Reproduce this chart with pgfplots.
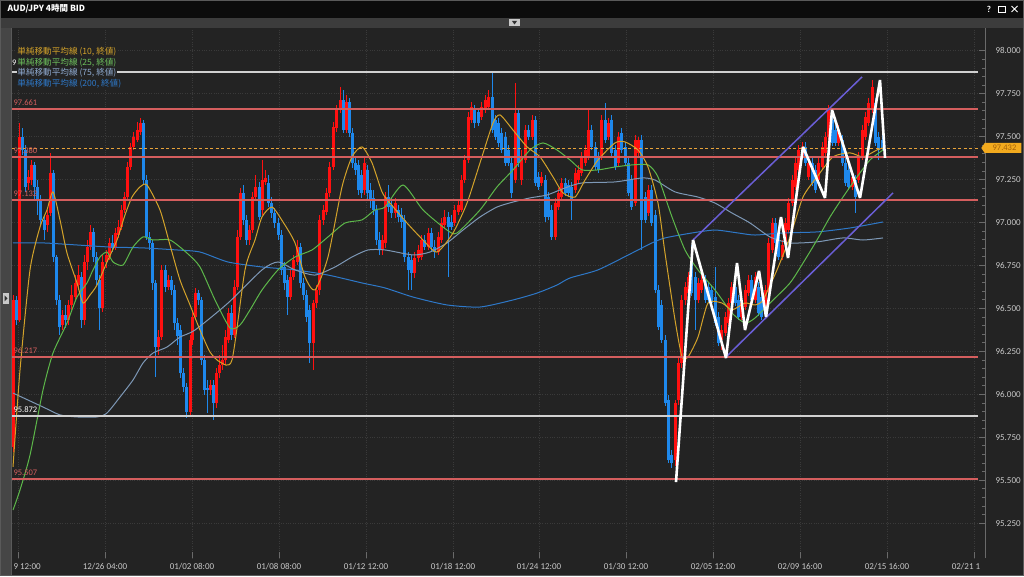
\documentclass[border=0pt]{standalone}
\usepackage{pgfplots}
\pgfplotsset{compat=1.18}
\usepackage{pgfplotstable}
\usepackage{fontspec}
\setmainfont{Carlito}
\newfontfamily\cjk{Noto Sans CJK JP}
\usetikzlibrary{shapes.symbols}
\definecolor{bg}{HTML}{232323}
\definecolor{candred}{HTML}{FF1010}
\definecolor{candblue}{HTML}{1E88EC}
\definecolor{maten}{HTML}{D4A32A}
\definecolor{matwf}{HTML}{5DB84A}
\definecolor{masf}{HTML}{7D98B6}
\definecolor{matwo}{HTML}{2E78C8}
\definecolor{hred}{HTML}{D45E5E}
\definecolor{hwhite}{HTML}{D0D0D0}
\definecolor{dashor}{HTML}{E8A33A}
\definecolor{chan}{HTML}{6A5ED6}
\definecolor{gridc}{HTML}{3A3A3A}
\definecolor{tickc}{HTML}{6A6A6A}
\definecolor{labc}{HTML}{C8C8C8}
\definecolor{tagor}{HTML}{F2AA1E}
\definecolor{tagtx}{HTML}{A4610A}
\definecolor{stripc}{HTML}{3C3C3C}
\definecolor{leftc}{HTML}{464646}
\definecolor{edgec}{HTML}{5A5A5A}
\definecolor{lightc}{HTML}{C8C8C8}
\definecolor{darkc}{HTML}{303030}
\definecolor{titlec}{HTML}{0C0C0C}
\definecolor{legsf}{HTML}{8FAAD0}

\pgfplotstableread{
x o h l c
13.0 95.693 96.578 95.664 96.549
16.1 96.549 96.572 96.403 96.433
19.2 96.433 97.579 96.421 97.498
22.3 97.498 97.550 97.393 97.422
25.4 97.422 97.451 97.178 97.207
28.5 97.230 97.306 97.189 97.265
31.6 97.247 97.364 97.218 97.335
34.7 97.335 97.352 97.131 97.207
37.8 97.207 97.247 97.044 97.131
40.9 97.131 97.160 96.986 97.015
44.0 97.015 97.044 96.898 96.956
47.1 96.986 97.073 96.945 97.044
50.2 97.055 97.405 97.038 97.288
53.3 97.288 97.306 96.770 96.799
56.4 96.799 96.811 96.520 96.549
59.5 96.549 96.578 96.345 96.392
62.6 96.403 96.491 96.374 96.462
65.7 96.462 96.520 96.386 96.433
68.8 96.433 96.549 96.403 96.520
71.9 96.520 96.636 96.491 96.578
75.0 96.566 96.694 96.549 96.648
78.1 96.636 96.752 96.607 96.694
81.2 96.683 96.712 96.386 96.433
84.3 96.433 96.811 96.403 96.770
87.4 96.770 96.898 96.724 96.857
90.5 96.857 96.986 96.840 96.945
93.6 96.945 96.968 96.770 96.799
96.7 96.799 96.828 96.636 96.665
99.8 96.665 96.694 96.374 96.502
102.9 96.502 96.811 96.479 96.770
106.0 96.770 96.840 96.735 96.811
109.1 96.799 96.910 96.782 96.881
112.2 96.881 96.927 96.828 96.852
115.3 96.852 96.968 96.840 96.939
118.4 96.927 97.015 96.910 96.974
121.5 96.974 97.102 96.956 97.073
124.6 97.073 97.178 97.055 97.148
127.7 97.148 97.352 97.131 97.323
130.8 97.323 97.463 97.306 97.440
133.9 97.440 97.527 97.422 97.498
137.0 97.480 97.585 97.469 97.538
140.1 97.527 97.608 97.509 97.579
143.1 97.579 97.597 97.218 97.247
146.3 97.247 97.276 96.898 96.916
149.4 96.916 96.945 96.840 96.881
152.5 96.881 96.898 96.607 96.648
155.6 96.648 96.665 96.100 96.275
158.8 96.275 96.374 96.229 96.333
161.9 96.333 96.752 96.316 96.724
165.0 96.724 96.752 96.595 96.624
168.1 96.624 96.694 96.607 96.665
171.3 96.665 96.689 96.578 96.607
174.4 96.607 96.636 96.374 96.415
177.5 96.415 96.444 96.287 96.339
180.6 96.374 96.403 96.095 96.124
183.8 96.124 96.153 96.013 96.042
186.9 96.042 96.066 95.862 95.897
190.0 95.897 96.345 95.868 96.316
192.9 96.316 96.491 96.287 96.450
195.9 96.450 96.619 96.433 96.589
198.8 96.589 96.607 96.520 96.549
201.8 96.549 96.566 96.170 96.200
204.7 96.200 96.229 95.996 96.025
207.6 96.037 96.083 95.891 96.025
210.6 96.025 96.083 95.996 96.054
213.5 96.054 96.083 95.850 95.949
216.5 95.949 96.153 95.920 96.124
219.4 96.124 96.229 96.095 96.170
222.4 96.170 96.287 96.141 96.200
225.3 96.200 96.374 96.170 96.333
228.2 96.316 96.502 96.298 96.473
231.2 96.473 96.520 96.316 96.345
234.1 96.345 96.665 96.328 96.624
237.1 96.624 96.956 96.607 96.916
240.0 96.916 97.201 96.898 97.172
243.2 97.172 97.218 96.986 97.015
246.3 97.015 97.044 96.869 96.898
249.5 96.898 96.986 96.869 96.956
252.7 96.956 97.178 96.939 97.148
255.9 97.148 97.276 97.131 97.207
259.0 97.207 97.236 97.015 97.032
262.2 97.073 97.364 97.044 97.247
265.4 97.236 97.306 97.218 97.259
268.6 97.230 97.276 97.090 97.113
271.7 97.113 97.148 97.026 97.055
274.9 97.055 97.084 96.968 96.997
278.1 96.997 97.026 96.898 96.927
281.2 96.927 96.956 96.694 96.724
284.4 96.741 96.770 96.607 96.648
287.6 96.665 96.694 96.462 96.566
290.8 96.566 96.724 96.549 96.683
293.9 96.683 96.811 96.665 96.782
297.1 96.770 96.898 96.752 96.857
300.3 96.857 96.881 96.619 96.648
303.5 96.648 96.677 96.549 96.578
306.6 96.578 96.607 96.421 96.450
309.8 96.491 96.520 96.182 96.298
313.0 96.298 96.549 96.141 96.531
316.4 96.531 96.636 96.502 96.607
319.8 96.607 97.044 96.578 97.015
323.1 97.015 97.102 96.986 97.073
326.5 97.061 97.201 97.044 97.172
329.9 97.172 97.352 97.148 97.323
333.3 97.323 97.585 97.306 97.556
336.6 97.550 97.684 97.527 97.655
340.0 97.655 97.789 97.637 97.713
343.0 97.713 97.771 97.521 97.538
346.0 97.538 97.742 97.521 97.701
349.0 97.701 97.725 97.498 97.521
352.0 97.521 97.550 97.317 97.347
355.0 97.347 97.376 97.276 97.306
358.0 97.335 97.364 97.160 97.189
361.0 97.276 97.306 97.143 97.172
364.0 97.189 97.376 97.160 97.347
367.0 97.306 97.335 97.131 97.172
370.0 97.189 97.230 97.084 97.131
373.0 97.143 97.189 97.044 97.073
376.0 97.073 97.102 96.869 96.898
379.0 96.898 96.945 96.811 96.840
382.0 96.840 96.927 96.811 96.898
385.0 96.881 97.178 96.852 97.148
388.3 97.148 97.218 97.061 97.090
391.6 97.102 97.143 97.026 97.055
395.0 97.055 97.143 97.026 97.113
398.3 97.073 97.102 97.003 97.032
401.6 97.044 97.084 96.968 97.003
404.9 97.015 97.044 96.770 96.799
408.2 96.799 96.828 96.607 96.724
411.6 96.782 96.811 96.607 96.706
414.9 96.706 96.828 96.677 96.793
418.2 96.793 96.869 96.770 96.840
421.5 96.799 96.927 96.782 96.898
424.8 96.898 96.927 96.840 96.857
428.2 96.857 96.968 96.840 96.939
431.5 96.939 96.968 96.828 96.857
434.8 96.857 96.898 96.793 96.828
438.1 96.828 96.945 96.811 96.916
441.4 96.898 97.026 96.881 96.997
444.8 96.986 97.073 96.968 97.032
448.1 97.032 97.061 96.683 96.974
451.4 97.003 97.044 96.956 96.974
454.7 96.997 97.102 96.980 97.073
458.0 97.061 97.131 97.044 97.102
461.4 97.073 97.276 97.061 97.247
464.7 97.247 97.393 97.230 97.364
468.0 97.364 97.643 97.347 97.614
471.4 97.597 97.701 97.579 97.672
474.9 97.655 97.684 97.550 97.579
478.3 97.643 97.666 97.562 97.579
481.7 97.614 97.701 97.597 97.672
485.1 97.655 97.742 97.637 97.713
488.6 97.672 97.771 97.655 97.730
492.0 97.730 97.870 97.521 97.538
495.3 97.597 97.626 97.480 97.498
498.6 97.579 97.608 97.440 97.463
501.9 97.521 97.550 97.405 97.422
505.1 97.498 97.527 97.329 97.347
508.4 97.422 97.451 97.329 97.347
511.7 97.347 97.376 97.143 97.172
515.0 97.247 97.812 97.230 97.637
518.4 97.637 97.655 97.323 97.347
521.8 97.247 97.422 97.218 97.382
525.2 97.364 97.567 97.347 97.538
528.6 97.538 97.567 97.480 97.498
532.0 97.498 97.626 97.480 97.597
535.0 97.597 97.620 97.212 97.230
538.3 97.265 97.294 97.189 97.207
541.7 97.230 97.294 97.212 97.265
545.0 97.247 97.276 97.003 97.032
548.3 97.148 97.178 97.015 97.032
551.7 97.073 97.102 96.898 96.916
555.0 96.916 97.143 96.898 97.113
558.4 97.090 97.201 97.073 97.172
561.7 97.148 97.259 97.131 97.230
565.0 97.230 97.259 97.154 97.172
568.4 97.218 97.247 97.148 97.172
571.7 97.207 97.236 97.015 97.131
575.0 97.189 97.317 97.172 97.288
578.4 97.247 97.335 97.230 97.306
581.7 97.288 97.411 97.271 97.382
585.1 97.347 97.451 97.329 97.422
588.4 97.382 97.655 97.364 97.538
591.7 97.538 97.567 97.422 97.440
595.1 97.440 97.469 97.306 97.323
598.4 97.382 97.411 97.288 97.306
601.7 97.382 97.626 97.364 97.597
605.1 97.597 97.695 97.463 97.480
608.4 97.498 97.608 97.480 97.579
611.8 97.597 97.626 97.387 97.405
615.1 97.422 97.451 97.306 97.323
618.4 97.347 97.527 97.329 97.498
621.8 97.521 97.550 97.405 97.422
625.1 97.440 97.469 97.329 97.347
628.4 97.347 97.376 97.154 97.172
631.8 97.247 97.276 97.073 97.090
635.1 97.113 97.509 97.096 97.480
638.5 97.405 97.498 97.387 97.480
641.8 97.480 97.509 96.840 97.015
645.1 97.148 97.178 96.997 97.015
648.5 97.055 97.218 97.038 97.189
651.8 97.189 97.218 96.980 96.997
655.1 97.044 97.073 96.589 96.607
658.5 96.607 96.636 96.374 96.392
661.8 96.520 96.549 96.298 96.316
665.2 96.316 96.345 95.932 95.949
668.5 95.967 95.996 95.600 95.617
671.8 95.646 95.676 95.571 95.600
675.2 95.617 95.967 95.582 95.949
678.5 95.967 96.211 95.938 96.182
681.8 96.182 96.578 96.153 96.549
685.2 96.549 96.654 96.520 96.624
688.5 96.589 96.712 96.572 96.683
691.9 96.764 96.869 96.572 96.589
695.2 96.683 96.712 96.374 96.549
698.5 96.549 96.677 96.531 96.648
701.9 96.607 96.694 96.589 96.665
705.2 96.665 96.694 96.531 96.549
708.5 96.624 96.654 96.531 96.549
711.9 96.607 96.636 96.514 96.531
715.2 96.566 96.741 96.398 96.415
718.6 96.450 96.479 96.281 96.298
721.9 96.316 96.403 96.258 96.374
725.2 96.357 96.479 96.339 96.450
728.6 96.415 96.560 96.398 96.531
731.9 96.531 96.654 96.514 96.624
735.2 96.624 96.654 96.514 96.531
738.6 96.549 96.578 96.433 96.450
741.9 96.450 96.560 96.433 96.531
745.3 96.508 96.636 96.491 96.607
748.6 96.589 96.694 96.572 96.665
751.9 96.665 96.694 96.531 96.549
755.3 96.549 96.712 96.531 96.683
758.6 96.624 96.654 96.456 96.473
761.9 96.566 96.595 96.433 96.450
765.3 96.508 96.636 96.491 96.607
768.6 96.607 96.910 96.589 96.881
772.0 96.840 97.026 96.822 96.997
775.3 96.997 97.026 96.863 96.881
778.6 96.939 96.968 96.782 96.799
782.0 96.799 96.898 96.782 96.869
785.3 96.881 97.026 96.863 96.997
788.6 96.956 97.143 96.939 97.113
792.0 97.113 97.276 97.096 97.247
795.3 97.207 97.376 97.189 97.347
798.7 97.306 97.451 97.288 97.422
802.0 97.382 97.469 97.364 97.440
805.3 97.440 97.469 97.329 97.347
808.7 97.265 97.376 97.247 97.347
812.0 97.347 97.376 97.212 97.230
815.3 97.306 97.335 97.172 97.189
818.7 97.247 97.376 97.230 97.347
822.0 97.323 97.469 97.306 97.440
825.4 97.405 97.527 97.387 97.498
828.7 97.498 97.684 97.480 97.655
832.0 97.597 97.626 97.445 97.463
835.4 97.538 97.567 97.445 97.463
838.7 97.463 97.567 97.445 97.538
842.0 97.480 97.509 97.329 97.347
845.4 97.347 97.376 97.212 97.230
848.7 97.306 97.335 97.189 97.207
852.1 97.207 97.294 97.189 97.265
855.4 97.247 97.276 97.055 97.148
858.7 97.247 97.411 97.230 97.382
862.1 97.382 97.567 97.364 97.538
865.4 97.498 97.643 97.480 97.614
868.7 97.579 97.725 97.562 97.695
872.1 97.655 97.829 97.637 97.789
875.4 97.695 97.725 97.445 97.463
878.7 97.498 97.527 97.364 97.422
882.1 97.480 97.509 97.416 97.432
}\candles

\pgfplotsset{
  candle/.style 2 args={draw=none, mark=none, forget plot, restrict y to domain=90:100,
    error bars/.cd, y dir=both, y explicit, error mark=none,
    error bar style={draw=#1, line width=#2, line cap=butt}},
}

\begin{document}
\begin{tikzpicture}[x=1pt,y=1pt]
\useasboundingbox (0,0) rectangle (1024,576);
\fill[bg] (0,0) rectangle (1024,576);
\begin{axis}[
  at={(12pt,18pt)}, anchor=south west, scale only axis,
  width=973pt, height=530pt,
  xmin=12, xmax=985, ymin=95.047, ymax=98.132,
  axis line style={draw=none},
  ytick={95.25,95.5,95.75,96,96.25,96.5,96.75,97,97.25,97.5,97.75,98},
  minor y tick num=4,
  yticklabel pos=right, ytick pos=right, xtick pos=left,
  tick align=inside,
  major tick length=6pt, minor tick length=3pt,
  every tick/.style={color=tickc, line width=0.7pt},
  xtick={18,105,192,279,366,453,539,626,713,800,887,974},
  xticklabels={\makebox[0pt][l]{\hspace*{-4.5pt}9 12:00},12/26 04:00,01/02 08:00,01/08 08:00,01/12 12:00,01/18 12:00,01/24 12:00,01/30 12:00,02/05 12:00,02/09 16:00,02/15 16:00,\hspace*{-16pt}02/21 1},
  minor x tick num=4,
  grid=major,
  major grid style={dotted, color=gridc, line width=0.7pt},
  yticklabel style={font=\fontsize{9}{10}\selectfont, text=labc, anchor=west, xshift=7pt,
    /pgf/number format/.cd, fixed, fixed zerofill, precision=3, assume math mode=true},
  xticklabel style={font=\fontsize{9}{10}\selectfont, text=labc, yshift=-2pt},
  clip=true,
]
% wicks
\addplot[candle={candred}{0.9pt}] table[x=x, y expr={0.5*(\thisrow{h}+\thisrow{l})+1000*(\thisrow{c}<\thisrow{o})}, y error expr={0.5*(\thisrow{h}-\thisrow{l})}] {\candles};
\addplot[candle={candblue}{0.9pt}] table[x=x, y expr={0.5*(\thisrow{h}+\thisrow{l})+1000*(1-(\thisrow{c}<\thisrow{o}))}, y error expr={0.5*(\thisrow{h}-\thisrow{l})}] {\candles};
% bodies
\addplot[candle={candred}{3pt}] table[x=x, y expr={0.5*(\thisrow{o}+\thisrow{c})+1000*(\thisrow{c}<\thisrow{o})}, y error expr={max(0.5*abs(\thisrow{c}-\thisrow{o}),0.003)}] {\candles};
\addplot[candle={candblue}{3pt}] table[x=x, y expr={0.5*(\thisrow{o}+\thisrow{c})+1000*(1-(\thisrow{c}<\thisrow{o}))}, y error expr={max(0.5*abs(\thisrow{c}-\thisrow{o}),0.003)}] {\candles};

% MA 200
\addplot[matwo, line width=1pt, smooth, tension=0.4] coordinates {
(13,96.881)(43,96.881)(77,96.869)(110,96.857)(143,96.852)(177,96.840)(200,96.828)(228,96.770)(262,96.741)(295,96.724)(328,96.694)(362,96.648)(385,96.619)(413,96.566)(447,96.520)(480,96.508)(513,96.549)(537,96.589)(557,96.636)(570,96.677)(598,96.724)(632,96.822)(652,96.881)(665,96.910)(692,96.939)(715,96.956)(738,96.939)(755,96.927)(783,96.939)(817,96.945)(850,96.968)(883,97.003)};
% MA 75
\addplot[masf, line width=1pt, smooth, tension=0.4] coordinates {
(13,96.007)(43,95.926)(60,95.880)(77,95.868)(97,95.868)(107,95.891)(120,95.984)(133,96.083)(143,96.182)(153,96.240)(167,96.275)(180,96.333)(195,96.374)(228,96.531)(262,96.724)(278,96.770)(295,96.724)(315,96.694)(335,96.741)(352,96.799)(368,96.840)(385,96.840)(413,96.811)(430,96.828)(447,96.881)(463,96.956)(480,97.032)(497,97.090)(513,97.119)(530,97.143)(547,97.160)(565,97.201)(582,97.230)(615,97.236)(642,97.259)(655,97.247)(675,97.178)(698,97.148)(715,97.113)(732,97.055)(750,96.997)(770,96.916)(790,96.881)(817,96.887)(843,96.910)(863,96.898)(883,96.910)};
% MA 25
\addplot[matwf, line width=1pt, smooth, tension=0.4] coordinates {
(13,95.326)(20,95.443)(30,95.646)(43,96.025)(53,96.240)(67,96.415)(77,96.566)(87,96.648)(93,96.724)(100,96.799)(107,96.828)(113,96.770)(123,96.752)(133,96.857)(143,96.916)(153,96.898)(170,96.898)(187,96.822)(200,96.741)(215,96.549)(230,96.386)(240,96.403)(250,96.491)(262,96.607)(278,96.724)(295,96.799)(312,96.840)(328,96.916)(345,96.997)(362,97.015)(375,97.073)(385,97.090)(403,97.218)(423,97.073)(447,96.956)(457,96.939)(480,97.073)(497,97.207)(513,97.306)(530,97.422)(543,97.463)(557,97.422)(570,97.364)(582,97.306)(598,97.306)(615,97.323)(632,97.335)(648,97.335)(658,97.265)(672,97.032)(685,96.840)(698,96.724)(715,96.607)(732,96.473)(745,96.415)(755,96.444)(770,96.531)(790,96.648)(803,96.764)(817,96.898)(830,97.032)(843,97.148)(857,97.265)(870,97.364)(883,97.422)};
% MA 10
\addplot[maten, line width=1pt, smooth, tension=0.4] coordinates {
(13,95.577)(20,96.141)(30,96.724)(40,96.974)(47,97.073)(53,97.178)(60,97.015)(67,96.822)(77,96.648)(83,96.531)(90,96.578)(97,96.636)(107,96.770)(117,96.898)(125,97.044)(132,97.148)(140,97.207)(147,97.218)(160,97.073)(170,96.869)(180,96.665)(190,96.520)(200,96.374)(210,96.246)(220,96.188)(232,96.200)(245,96.724)(255,96.898)(262,97.032)(272,97.090)(283,97.003)(295,96.881)(305,96.683)(315,96.607)(328,96.799)(342,97.207)(352,97.382)(362,97.440)(372,97.347)(382,97.178)(390,97.113)(407,96.997)(423,96.898)(437,96.828)(453,96.939)(467,97.113)(480,97.347)(493,97.579)(500,97.626)(513,97.538)(527,97.440)(540,97.382)(553,97.265)(563,97.172)(575,97.148)(585,97.247)(598,97.364)(615,97.463)(625,97.469)(638,97.422)(648,97.323)(658,97.113)(665,96.822)(675,96.433)(682,96.217)(688,96.217)(698,96.333)(708,96.531)(722,96.531)(732,96.491)(745,96.531)(755,96.520)(763,96.549)(777,96.724)(790,96.916)(803,97.148)(817,97.265)(833,97.382)(850,97.405)(863,97.382)(877,97.422)(883,97.434)};

% horizontal levels
\addplot[hwhite, line width=2pt] coordinates {(12,97.876)(978,97.876)};
\addplot[hred, line width=2pt] coordinates {(12,97.661)(978,97.661)};
\addplot[dashor, line width=0.8pt, dash pattern=on 3pt off 2.5pt] coordinates {(12,97.432)(978,97.432)};
\addplot[hred, line width=2pt] coordinates {(12,97.380)(978,97.380)};
\addplot[hred, line width=2pt] coordinates {(12,97.132)(978,97.132)};
\addplot[hred, line width=2pt] coordinates {(12,96.217)(978,96.217)};
\addplot[hwhite, line width=2pt] coordinates {(12,95.872)(978,95.872)};
\addplot[hred, line width=2pt] coordinates {(12,95.507)(978,95.507)};

% channel
\addplot[chan, line width=1.5pt] coordinates {(693,96.898)(862,97.847)};
\addplot[chan, line width=1.5pt] coordinates {(726,96.217)(893,97.172)};
% zigzag
\addplot[white, line width=2.6pt, line join=miter, miter limit=3] coordinates {
(676,95.489)(693,96.898)(726,96.211)(737,96.764)(745,96.374)(759,96.718)(766,96.450)(781,97.032)(788,96.793)(803,97.440)(825,97.143)(832,97.655)(860,97.143)(880,97.829)(885,97.376)};

% level labels
\node[anchor=south west, inner sep=0.5pt, text=hred, font=\fontsize{8.5}{9}\selectfont] at (axis cs:12.8,97.677) {97.661};
\node[anchor=south west, inner sep=0.5pt, text=hred, font=\fontsize{8.5}{9}\selectfont] at (axis cs:12.8,97.396) {97.380};
\node[anchor=south west, inner sep=0.5pt, text=hred, font=\fontsize{8.5}{9}\selectfont] at (axis cs:12.8,97.148) {97.132};
\node[anchor=south west, inner sep=0.5pt, text=hred, font=\fontsize{8.5}{9}\selectfont] at (axis cs:12.8,96.233) {96.217};
\node[anchor=south west, inner sep=0.5pt, text=white, font=\fontsize{8.5}{9}\selectfont] at (axis cs:12.8,95.888) {95.872};
\node[anchor=south west, inner sep=0.5pt, text=hred, font=\fontsize{8.5}{9}\selectfont] at (axis cs:12.8,95.523) {95.507};
\end{axis}

% right axis line
\draw[tickc, line width=0.7pt] (985,18) -- (985,548);
% legend
\node[anchor=east, text=white, font=\fontsize{8.5}{9}\selectfont, inner sep=0pt] at (16.6,513) {9};
\node[anchor=west, fill=bg, inner sep=0.6pt, text=maten, font=\cjk\fontsize{8.6}{9}\selectfont] at (16.6,524) {単純移動平均線 (10, 終値)};
\node[anchor=west, fill=bg, inner sep=0.6pt, text=matwf!90!white, font=\cjk\fontsize{8.6}{9}\selectfont] at (16.6,513.5) {単純移動平均線 (25, 終値)};
\node[anchor=west, fill=bg, inner sep=0.6pt, text=legsf, font=\cjk\fontsize{8.6}{9}\selectfont] at (16.6,503) {単純移動平均線 (75, 終値)};
\node[anchor=west, fill=bg, inner sep=0.6pt, text=matwo, font=\cjk\fontsize{8.6}{9}\selectfont] at (16.6,492.5) {単純移動平均線 (200, 終値)};
% price tag
\node[signal, signal to=west, signal pointer angle=110, fill=tagor, text=tagtx, inner sep=0.8pt, minimum height=10pt, minimum width=40pt, font=\fontsize{8.5}{9}\selectfont, anchor=west] at (981,428) {\hspace*{3pt}97.432};
% left strip
\fill[leftc] (0,0) rectangle (11,548);
\draw[edgec, line width=0.8pt] (11.3,0) -- (11.3,548);
\fill[lightc] (3,272) rectangle (9,283);
\fill[darkc] (4.5,274.5) -- (7.5,277.5) -- (4.5,280.5) -- cycle;
% top strip
\fill[stripc] (0,548) rectangle (1024,558);
\fill[lightc] (509,550) rectangle (520,556.5);
\fill[darkc] (512,555) -- (517,555) -- (514.5,551.5) -- cycle;
% title bar
\fill[titlec] (0,558) rectangle (1024,576);
\node[anchor=west, text=white, font=\cjk\bfseries\fontsize{8.5}{9}\selectfont] at (4,567.5) {AUD/JPY 4時間 BID};
\node[text=white, font=\fontsize{9}{9}\selectfont\bfseries] at (989,567) {?};
\draw[white, line width=0.8pt] (998.5,563.5) rectangle (1005,570);
\draw[white, line width=1pt] (1011.5,564) -- (1017.5,570) (1011.5,570) -- (1017.5,564);
\draw[edgec, line width=1pt] (0.5,0.5) rectangle (1023.5,575.5);
\end{tikzpicture}
\end{document}
